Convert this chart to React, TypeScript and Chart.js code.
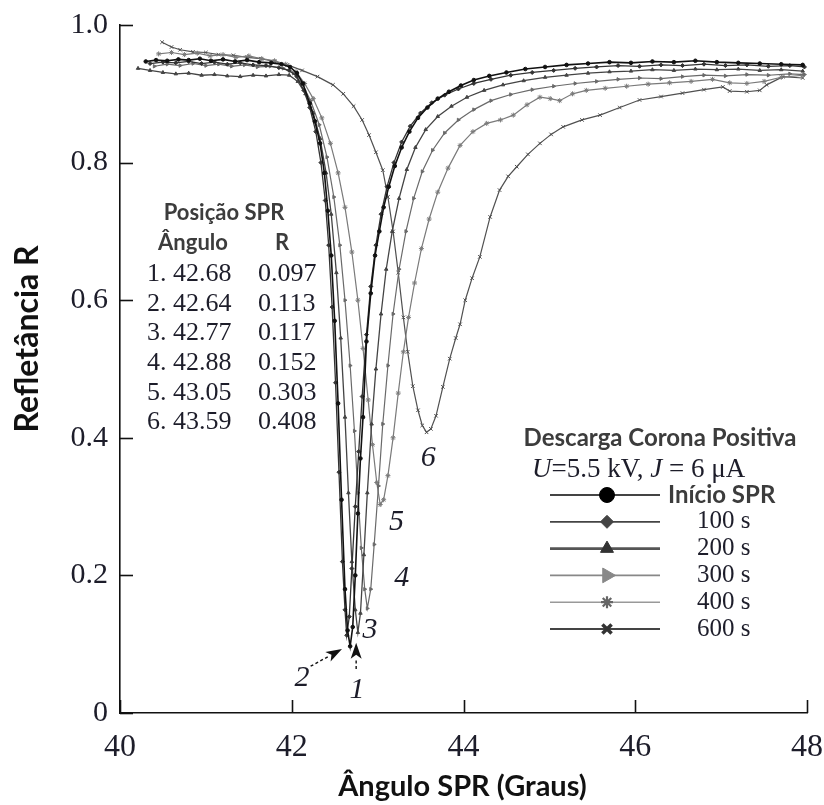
import React, { useEffect, useRef } from 'react';
import { Chart, registerables } from 'chart.js';
import { drawPoint } from 'chart.js/helpers';

Chart.register(...registerables);

// ---------- data ----------
const seriesNames = ['Início SPR', '100 s', '200 s', '300 s', '400 s', '600 s'];

const curve1: [number, number][] = [
  [40.30,0.947],[40.42,0.949],[40.55,0.948],[40.68,0.950],[40.80,0.949],[40.93,0.951],[41.06,0.948],[41.20,0.950],
  [41.34,0.947],[41.48,0.949],[41.62,0.946],[41.76,0.945],[41.88,0.943],[41.98,0.939],[42.06,0.930],[42.13,0.915],
  [42.21,0.886],[42.27,0.860],[42.33,0.828],[42.38,0.785],[42.42,0.730],[42.46,0.665],[42.50,0.570],[42.54,0.450],
  [42.58,0.310],[42.62,0.180],[42.65,0.120],[42.68,0.097],[42.71,0.125],[42.74,0.200],[42.77,0.290],[42.80,0.370],
  [42.83,0.430],[42.87,0.540],[42.92,0.610],[42.97,0.665],[43.02,0.700],[43.07,0.735],[43.13,0.765],[43.20,0.795],
  [43.28,0.822],[43.37,0.845],[43.47,0.865],[43.58,0.880],[43.70,0.893],[43.83,0.903],[43.97,0.912],[44.12,0.920],
  [44.30,0.926],[44.50,0.931],[44.72,0.936],[44.95,0.939],[45.20,0.942],[45.45,0.944],[45.70,0.946],[45.95,0.945],
  [46.20,0.947],[46.45,0.946],[46.70,0.948],[46.95,0.946],[47.20,0.945],[47.45,0.944],[47.70,0.943],[47.95,0.942],
];

const curve2: [number, number][] = [
  [40.35,0.944],[40.50,0.946],[40.65,0.945],[40.80,0.947],[40.95,0.944],[41.10,0.946],[41.25,0.943],[41.40,0.945],
  [41.55,0.942],[41.70,0.941],[41.85,0.938],[41.97,0.934],[42.06,0.925],[42.14,0.905],[42.21,0.880],[42.28,0.845],
  [42.34,0.800],[42.39,0.745],[42.43,0.680],[42.47,0.590],[42.51,0.480],[42.55,0.350],[42.59,0.220],[42.62,0.150],
  [42.64,0.113],[42.67,0.140],[42.70,0.210],[42.74,0.300],[42.78,0.380],[42.82,0.460],[42.87,0.550],[42.92,0.620],
  [42.98,0.680],[43.04,0.725],[43.11,0.765],[43.19,0.800],[43.28,0.830],[43.38,0.853],[43.50,0.872],[43.63,0.887],
  [43.78,0.898],[43.94,0.907],[44.12,0.915],[44.32,0.921],[44.55,0.927],[44.80,0.931],[45.05,0.934],[45.30,0.937],
  [45.55,0.939],[45.80,0.941],[46.05,0.940],[46.30,0.942],[46.55,0.941],[46.80,0.943],[47.05,0.941],[47.30,0.942],
  [47.55,0.940],[47.80,0.941],[47.97,0.939],
];

const curve3: [number, number][] = [
  [40.21,0.937],[40.35,0.934],[40.50,0.931],[40.65,0.929],[40.80,0.930],[40.95,0.927],[41.10,0.928],[41.25,0.926],
  [41.40,0.925],[41.55,0.927],[41.70,0.926],[41.85,0.928],[41.97,0.927],[42.07,0.918],[42.16,0.900],[42.25,0.872],
  [42.33,0.835],[42.40,0.785],[42.46,0.725],[42.52,0.640],[42.57,0.545],[42.62,0.430],[42.66,0.320],[42.70,0.220],
  [42.74,0.150],[42.77,0.117],[42.80,0.145],[42.84,0.230],[42.88,0.320],[42.93,0.420],[42.98,0.500],[43.04,0.580],
  [43.10,0.645],[43.17,0.700],[43.25,0.748],[43.34,0.790],[43.44,0.822],[43.56,0.848],[43.70,0.867],[43.86,0.882],
  [44.04,0.895],[44.24,0.905],[44.46,0.913],[44.70,0.919],[44.95,0.924],[45.20,0.927],[45.45,0.930],[45.70,0.932],
  [45.95,0.933],[46.20,0.935],[46.45,0.934],[46.70,0.936],[46.95,0.935],[47.20,0.936],[47.45,0.934],[47.70,0.935],
  [47.95,0.933],
];

const curve4: [number, number][] = [
  [40.40,0.940],[40.55,0.943],[40.70,0.941],[40.85,0.944],[41.00,0.941],[41.15,0.943],[41.30,0.940],[41.45,0.942],
  [41.60,0.939],[41.75,0.940],[41.90,0.937],[42.02,0.930],[42.12,0.915],[42.22,0.890],[42.32,0.855],[42.41,0.808],
  [42.49,0.750],[42.56,0.680],[42.62,0.600],[42.68,0.505],[42.73,0.410],[42.77,0.320],[42.81,0.240],[42.85,0.180],
  [42.88,0.152],[42.92,0.180],[42.96,0.245],[43.01,0.330],[43.06,0.420],[43.12,0.505],[43.18,0.580],[43.25,0.645],
  [43.33,0.700],[43.42,0.748],[43.52,0.787],[43.64,0.818],[43.78,0.843],[43.94,0.862],[44.12,0.877],[44.32,0.890],
  [44.55,0.899],[44.80,0.906],[45.05,0.911],[45.30,0.915],[45.55,0.918],[45.80,0.921],[46.05,0.923],[46.30,0.922],
  [46.55,0.925],[46.80,0.927],[47.05,0.926],[47.30,0.928],[47.55,0.927],[47.80,0.929],[47.97,0.928],
];

const curve5: [number, number][] = [
  [40.45,0.958],[40.60,0.960],[40.75,0.957],[40.90,0.959],[41.05,0.955],[41.20,0.957],[41.35,0.953],[41.50,0.955],
  [41.65,0.951],[41.80,0.948],[41.93,0.943],[42.05,0.932],[42.15,0.915],[42.25,0.893],[42.35,0.865],[42.45,0.828],
  [42.54,0.785],[42.62,0.735],[42.70,0.670],[42.77,0.600],[42.83,0.530],[42.89,0.455],[42.94,0.390],[42.99,0.335],
  [43.03,0.303],[43.07,0.310],[43.12,0.345],[43.18,0.400],[43.24,0.465],[43.30,0.525],[43.36,0.575],[43.43,0.625],
  [43.51,0.675],[43.60,0.718],[43.70,0.757],[43.82,0.792],[43.96,0.825],[44.11,0.845],[44.27,0.857],[44.43,0.862],
  [44.58,0.869],[44.74,0.884],[44.89,0.895],[45.01,0.893],[45.12,0.890],[45.27,0.900],[45.43,0.905],[45.65,0.908],
  [45.90,0.911],[46.15,0.914],[46.40,0.916],[46.65,0.918],[46.90,0.921],[47.10,0.916],[47.30,0.915],[47.50,0.918],
  [47.70,0.924],[47.95,0.927],
];

const curve6: [number, number][] = [
  [40.49,0.975],[40.60,0.968],[40.70,0.964],[40.85,0.961],[41.00,0.960],[41.15,0.957],[41.32,0.956],[41.48,0.953],
  [41.64,0.951],[41.80,0.947],[41.95,0.942],[42.12,0.934],[42.30,0.925],[42.48,0.913],[42.60,0.900],[42.72,0.882],
  [42.82,0.862],[42.90,0.840],[42.98,0.815],[43.06,0.789],[43.12,0.750],[43.18,0.700],[43.24,0.640],[43.30,0.575],
  [43.35,0.525],[43.41,0.475],[43.47,0.440],[43.52,0.418],[43.57,0.408],[43.62,0.413],[43.68,0.432],[43.76,0.474],
  [43.84,0.515],[43.91,0.545],[43.96,0.565],[44.02,0.600],[44.10,0.632],[44.19,0.663],[44.31,0.721],[44.42,0.760],
  [44.52,0.780],[44.62,0.794],[44.75,0.812],[44.89,0.828],[45.02,0.841],[45.16,0.852],[45.38,0.862],[45.59,0.869],
  [45.82,0.880],[46.05,0.891],[46.30,0.896],[46.55,0.901],[46.80,0.906],[47.02,0.910],[47.10,0.904],[47.30,0.903],
  [47.45,0.905],[47.53,0.913],[47.72,0.925],[47.95,0.923],
];

const curves = [curve1, curve2, curve3, curve4, curve5, curve6];

// SPR minimum table
const minAngle = [42.68, 42.64, 42.77, 42.88, 43.05, 43.59];
const minR = [0.097, 0.113, 0.117, 0.152, 0.303, 0.408];

// curve number labels (data coordinates)
const curveLabelPos: [number, number][] = [
  [42.76, 0.033], [42.12, 0.051], [42.91, 0.121], [43.28, 0.196], [43.22, 0.278], [43.59, 0.371],
];
// arrows: [tailX, tailY, tipX, tipY]
const arrows: [number, number, number, number][] = [
  [42.75, 0.064, 42.75, 0.102],
  [42.22, 0.068, 42.585, 0.093],
];

const xTicks = { min: 40, max: 48, step: 2 };
const yTicks = { min: 0, max: 1, step: 0.2 };

// ---------- styles ----------
const lineColors = ['#111111', '#333333', '#444444', '#6a6a6a', '#7a7a7a', '#505050'];
const lineWidths = [1.6, 1.3, 1.3, 1.2, 1.2, 1.2];
const pointStyles = ['circle', 'rectRot', 'triangle', 'triangle', 'star', 'crossRot'];
const pointRotations = [0, 0, 0, 90, 0, 0];
const pointRadii = [1.8, 2, 2, 2, 2.5, 2.5];
const legendRadii = [7.5, 6.5, 7.5, 8.5, 6, 6.5];
const legendMarkerWidths = [1, 1, 1, 1, 2.2, 3.5];
const legendLineColors = ['#444', '#444', '#555', '#888', '#999', '#444'];
const legendLineWidths = [1.8, 1.8, 2.6, 1.6, 1.6, 1.8];
const legendMarkerColors = ['#000', '#444', '#333', '#888', '#666', '#333'];

const SERIF = '"Liberation Serif", "DejaVu Serif", serif';
const SANS = 'Lato, "Open Sans", sans-serif';

function drawArrow(ctx: CanvasRenderingContext2D, x0: number, y0: number, x1: number, y1: number) {
  const ang = Math.atan2(y1 - y0, x1 - x0);
  const headLen = 16;
  const headW = 5.5;
  const bx = x1 - headLen * Math.cos(ang);
  const by = y1 - headLen * Math.sin(ang);
  ctx.save();
  ctx.strokeStyle = '#111';
  ctx.lineWidth = 1.4;
  ctx.setLineDash([3, 2.5]);
  ctx.beginPath();
  ctx.moveTo(x0, y0);
  ctx.lineTo(bx, by);
  ctx.stroke();
  ctx.setLineDash([]);
  ctx.fillStyle = '#111';
  ctx.beginPath();
  ctx.moveTo(x1, y1);
  ctx.lineTo(bx + headW * Math.sin(ang), by - headW * Math.cos(ang));
  ctx.lineTo(bx + 4 * Math.cos(ang), by + 4 * Math.sin(ang));
  ctx.lineTo(bx - headW * Math.sin(ang), by + headW * Math.cos(ang));
  ctx.closePath();
  ctx.fill();
  ctx.restore();
}

const decorPlugin = {
  id: 'decor',
  afterDraw(chart: any) {
    const { ctx, chartArea: a, scales } = chart;
    const xs = scales.x;
    const ys = scales.y;
    ctx.save();

    // inward tick marks
    ctx.strokeStyle = '#111';
    ctx.lineWidth = 1.6;
    ctx.setLineDash([]);
    xs.ticks.forEach((t: any) => {
      const px = Math.round(xs.getPixelForValue(t.value)) + 0.5;
      ctx.beginPath();
      ctx.moveTo(px, a.bottom);
      ctx.lineTo(px, a.bottom - 13);
      ctx.stroke();
    });
    ys.ticks.forEach((t: any) => {
      const py = Math.round(ys.getPixelForValue(t.value)) + 0.5;
      ctx.beginPath();
      ctx.moveTo(a.left, py);
      ctx.lineTo(a.left + 13, py);
      ctx.stroke();
    });

    // axis titles
    ctx.fillStyle = '#111';
    ctx.font = `bold 29px ${SANS}`;
    ctx.textAlign = 'center';
    ctx.textBaseline = 'middle';
    ctx.fillText('Ângulo SPR (Graus)', (a.left + a.right) / 2 - 1, a.bottom + 74);
    ctx.save();
    ctx.translate(38, 339);
    ctx.rotate(-Math.PI / 2);
    ctx.textBaseline = 'alphabetic';
    ctx.font = `bold 32px ${SANS}`;
    ctx.fillText('Refletância R', 0, 0);
    ctx.restore();

    // table of SPR minima
    ctx.textBaseline = 'middle';
    ctx.fillStyle = '#3c3c3c';
    ctx.font = `bold 22px ${SANS}`;
    ctx.textAlign = 'center';
    ctx.fillText('Posição SPR', a.left + 104, a.top + 188);
    ctx.fillText('Ângulo', a.left + 73, a.top + 218);
    ctx.fillText('R', a.left + 162, a.top + 218);
    ctx.fillStyle = '#1d1d2a';
    ctx.font = `26px ${SERIF}`;
    ctx.textAlign = 'left';
    minAngle.forEach((v, i) => {
      const yy = a.top + 249 + i * 29.7;
      ctx.fillText(`${i + 1}. ${v.toFixed(2)}`, a.left + 27, yy);
      ctx.fillText(minR[i].toFixed(3), a.left + 138, yy);
    });

    // curve number labels
    ctx.font = `italic 30px ${SERIF}`;
    ctx.textAlign = 'center';
    curveLabelPos.forEach(([vx, vy], i) => {
      ctx.fillText(String(i + 1), xs.getPixelForValue(vx), ys.getPixelForValue(vy));
    });
    arrows.forEach(([x0, y0, x1, y1]) => {
      drawArrow(ctx, xs.getPixelForValue(x0), ys.getPixelForValue(y0), xs.getPixelForValue(x1), ys.getPixelForValue(y1));
    });

    // legend
    const R = a.right;
    const T = a.top;
    ctx.fillStyle = '#3c3c3c';
    ctx.font = `bold 24px ${SANS}`;
    ctx.textAlign = 'center';
    ctx.fillText('Descarga Corona Positiva', R - 147, T + 413);

    // subtitle U=5.5 kV, J = 6 μA
    ctx.fillStyle = '#1d1d2a';
    ctx.textAlign = 'left';
    const parts: [string, boolean][] = [['U', true], ['=5.5 kV, ', false], ['J', true], [' = 6 μA', false]];
    let sx = R - 275;
    parts.forEach(([txt, it]) => {
      ctx.font = `${it ? 'italic ' : ''}27px ${SERIF}`;
      ctx.fillText(txt, sx, T + 445);
      sx += ctx.measureText(txt).width;
    });

    chart.data.datasets.forEach((ds: any, i: number) => {
      const yy = T + 470 + i * 26.8;
      ctx.strokeStyle = legendLineColors[i];
      ctx.lineWidth = legendLineWidths[i];
      ctx.beginPath();
      ctx.moveTo(R - 257, yy);
      ctx.lineTo(R - 147, yy);
      ctx.stroke();
      ctx.fillStyle = legendMarkerColors[i];
      ctx.strokeStyle = legendMarkerColors[i];
      ctx.lineWidth = legendMarkerWidths[i];
      drawPoint(ctx, {
        pointStyle: ds.pointStyle,
        rotation: ds.pointRotation || 0,
        radius: legendRadii[i],
        borderWidth: legendMarkerWidths[i],
      } as any, R - 200, yy);
      ctx.textAlign = 'left';
      if (i === 0) {
        ctx.fillStyle = '#3c3c3c';
        ctx.font = `bold 24px ${SANS}`;
        ctx.fillText(ds.label, R - 139, yy);
      } else {
        ctx.fillStyle = '#1d1d2a';
        ctx.font = `25px ${SERIF}`;
        ctx.fillText(ds.label, R - 110, yy);
      }
    });

    ctx.restore();
  },
};

export default function App() {
  const ref = useRef<HTMLCanvasElement | null>(null);

  useEffect(() => {
    document.body.style.margin = '0';
    if (!ref.current) return;
    const datasets = curves.map((c, i) => ({
      label: seriesNames[i],
      data: c.map(([x, y]) => ({ x, y })),
      showLine: true,
      fill: false,
      borderColor: lineColors[i],
      borderWidth: lineWidths[i],
      pointStyle: pointStyles[i],
      pointRotation: pointRotations[i],
      pointRadius: pointRadii[i],
      pointBackgroundColor: lineColors[i],
      pointBorderColor: lineColors[i],
      pointBorderWidth: 1,
      tension: 0,
    }));
    const chart = new Chart(ref.current, {
      type: 'scatter',
      data: { datasets },
      options: {
        responsive: false,
        animation: false,
        devicePixelRatio: 1,
        layout: { padding: { left: 0, top: 25, right: 17, bottom: 0 } },
        plugins: { legend: { display: false }, tooltip: { enabled: false } },
        scales: {
          x: {
            type: 'linear',
            min: xTicks.min,
            max: xTicks.max,
            ticks: {
              stepSize: xTicks.step,
              font: { family: SERIF, size: 32 },
              color: '#1d1d2a',
              padding: 15,
              maxRotation: 0,
            },
            grid: { display: false, drawTicks: false },
            border: { display: true, color: '#111', width: 1.6 },
            afterFit: (s: any) => { s.height = 92; s.paddingLeft = 0; s.paddingRight = 0; },
          },
          y: {
            type: 'linear',
            min: yTicks.min,
            max: yTicks.max,
            ticks: {
              stepSize: yTicks.step,
              callback: (v: any) => (Number(v) === 0 ? '0' : Number(v).toFixed(1)),
              font: { family: SERIF, size: 30 },
              color: '#1d1d2a',
              padding: 12,
            },
            grid: { display: false, drawTicks: false },
            border: { display: true, color: '#111', width: 1.6 },
            afterFit: (s: any) => { s.width = 120; s.paddingTop = 0; s.paddingBottom = 0; },
          },
        },
      } as any,
      plugins: [decorPlugin],
    });
    return () => chart.destroy();
  }, []);

  return (
    <div style={{ width: 824, height: 805 }}>
      <canvas ref={ref} width={824} height={805} style={{ display: 'block' }} />
    </div>
  );
}
